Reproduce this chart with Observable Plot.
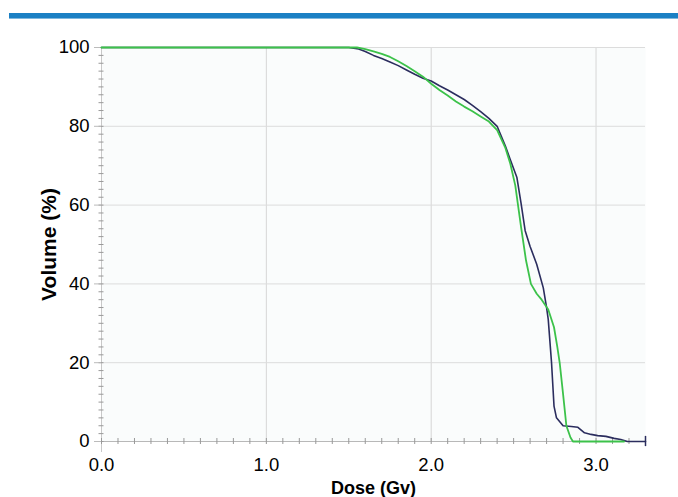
<!DOCTYPE html>
<html>
<head>
<meta charset="utf-8">
<script src="https://cdn.jsdelivr.net/npm/d3@7"></script>
<script src="https://cdn.jsdelivr.net/npm/@observablehq/plot@0.6"></script>
<style>
  html, body { margin: 0; padding: 0; background: #fff; }
  #wrap { position: relative; width: 678px; height: 497px; }
  #bar { position: absolute; left: 9px; right: 0; top: 13px; height: 5px; background: #1b80c4; border-bottom: 1px solid #7fb8de; }
  svg { display: block; }
</style>
</head>
<body>
<div id="wrap"><div id="bar"></div></div>
<script>
// Series 1 (dark navy curve)
const navyDose = [0, 1.50, 1.56, 1.60, 1.65, 1.70, 1.75, 1.80, 1.85, 1.90, 1.95, 2.00, 2.05, 2.10, 2.15, 2.20, 2.25, 2.30, 2.35, 2.40, 2.45, 2.48, 2.52, 2.545, 2.57, 2.60, 2.64, 2.68, 2.70, 2.71, 2.73, 2.745, 2.76, 2.80, 2.85, 2.89, 2.93, 2.97, 3.01, 3.06, 3.11, 3.15, 3.19, 3.30];
const navyVol  = [100, 100, 99.6, 99, 98, 97.2, 96.3, 95.4, 94.3, 93.2, 92.2, 91.5, 90.3, 89.2, 88, 86.8, 85.3, 83.7, 82, 80, 75, 71.5, 67, 60.5, 53.5, 49.5, 45, 39, 34, 31, 20, 9, 6, 4, 3.8, 3.6, 2.2, 1.8, 1.5, 1.3, 0.8, 0.5, 0, 0];
// Series 2 (green curve)
const greenDose = [0, 1.55, 1.60, 1.65, 1.70, 1.75, 1.80, 1.85, 1.90, 1.95, 2.00, 2.05, 2.10, 2.15, 2.20, 2.25, 2.30, 2.35, 2.40, 2.45, 2.48, 2.51, 2.545, 2.575, 2.605, 2.64, 2.67, 2.71, 2.745, 2.765, 2.78, 2.80, 2.82, 2.845, 2.86, 3.17];
const greenVol  = [100, 100, 99.6, 99, 98.4, 97.6, 96.5, 95.3, 94, 92.6, 90.8, 89.2, 87.8, 86.3, 85, 83.8, 82.5, 81.2, 79, 74.5, 70.5, 65, 54.5, 46, 40, 37.5, 36, 33.5, 29, 24, 19.8, 12, 4, 1, 0, 0];
// Ticks
const xTicks = [0, 1, 2, 3];
const xMinor = d3.range(0, 34).map(i => i / 10);
const yTicks = [0, 20, 40, 60, 80, 100];
const yMinor = d3.range(0, 102, 2);
const xLabel = "Dose (Gv)";
const yLabel = "Volume (%)";

const navy = navyDose.map((d, i) => ({dose: d, vol: navyVol[i]}));
const green = greenDose.map((d, i) => ({dose: d, vol: greenVol[i]}));

const font = "'Liberation Sans', Arial, sans-serif";

const chart = Plot.plot({
  width: 678,
  height: 497,
  marginLeft: 101,
  marginRight: 33,
  marginTop: 47,
  marginBottom: 56,
  style: {fontFamily: font, color: "#111", background: "transparent", overflow: "visible"},
  x: {domain: [0, 3.3]},
  y: {domain: [0, 100]},
  marks: [
    Plot.frame({fill: "#fafcfc", stroke: null}),
    Plot.gridX(xTicks.filter(d => d > 0), {stroke: "#d6d6d6", strokeOpacity: 1}),
    Plot.gridY(yTicks.filter(d => d > 0), {stroke: "#dcdcdc", strokeOpacity: 1}),
    Plot.ruleX([0], {stroke: "#c8c8c8", insetBottom: -11}),
    Plot.ruleY([0], {stroke: "#b8b8b8"}),
    // minor ticks (cross style)
    Plot.axisY({ticks: yMinor, tickSize: 5, dx: 2.5, text: null, label: null, stroke: "#999"}),
    Plot.axisX({ticks: xMinor, tickSize: 6, dy: -3, text: null, label: null, stroke: "#999"}),
    // major axes
    Plot.axisY({ticks: yTicks, tickSize: 7, tickPadding: 5, fontSize: 18.5, stroke: "#bbb", fill: "#000",
      label: yLabel, labelAnchor: "center", labelOffset: 60, labelArrow: "none"}),
    Plot.axisX({ticks: xTicks, tickSize: 0, tickPadding: 16, fontSize: 18.5, fill: "#000",
      tickFormat: d3.format(".1f"), label: xLabel, labelAnchor: "center", labelOffset: 52, labelArrow: "none"}),
    Plot.line(navy, {x: "dose", y: "vol", stroke: "#2b2d5e", strokeWidth: 1.6}),
    Plot.line(green, {x: "dose", y: "vol", stroke: "#3cc24a", strokeWidth: 1.8}),
    Plot.ruleX(navy.slice(-1), {x: "dose", y1: d => d.vol - 1.3, y2: d => d.vol + 1.3, stroke: "#2b2d5e", strokeWidth: 1.5})
  ]
});

// style labels (bold, sizes)
chart.querySelectorAll("text").forEach(t => {
  const s = t.textContent;
  if (s === yLabel) { t.style.fontWeight = "bold"; t.style.fontSize = "21px"; t.style.fill = "#000"; }
  else if (s === xLabel) { t.style.fontWeight = "bold"; t.style.fontSize = "18px"; t.style.fill = "#000"; }
  else if (/^[0-9.]+$/.test(s)) { t.style.fontSize = "18.5px"; t.style.fill = "#000"; }
});
document.getElementById("wrap").prepend(chart);
</script>
</body>
</html>
